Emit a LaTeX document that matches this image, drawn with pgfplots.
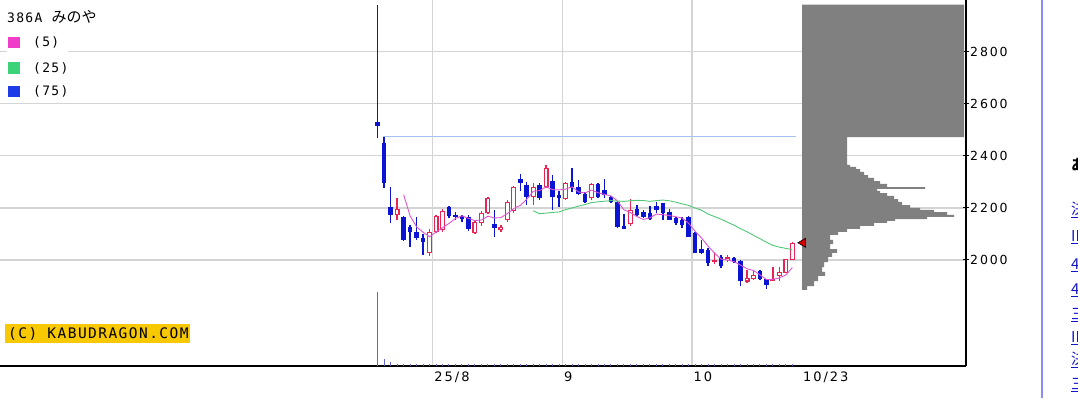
\documentclass[border=0pt]{standalone}
\usepackage{fontspec}
\setmainfont{DejaVu Sans}
\newfontfamily\tickfont[LetterSpace=15]{DejaVu Sans}
\newfontfamily\legfont[LetterSpace=10]{DejaVu Sans Mono}
\newfontfamily\jpfont{Noto Sans CJK JP}
\usepackage{pgfplots}
\pgfplotsset{compat=1.18}
\usepackage{pgfplotstable}

\definecolor{bear}{RGB}{10,20,210}
\definecolor{bull}{RGB}{232,36,84}
\definecolor{ma5}{RGB}{225,85,210}
\definecolor{ma25}{RGB}{80,200,120}
\definecolor{gridc}{RGB}{212,212,212}
\definecolor{ipo}{RGB}{165,195,240}
\definecolor{prof}{RGB}{128,128,128}
\definecolor{vol}{RGB}{100,100,205}
\definecolor{sqa}{RGB}{240,60,200}
\definecolor{sqb}{RGB}{60,210,120}
\definecolor{sqc}{RGB}{30,60,230}
\definecolor{copyc}{RGB}{248,200,0}
\definecolor{sepc}{RGB}{140,140,240}
\definecolor{tri}{RGB}{215,0,0}
\definecolor{linkc}{RGB}{20,20,200}

% bearish candles (close < open)
\pgfplotstableread{
i O H L C
0 2530 2980 2470 2515
1 2448 2471 2276 2295
2 2203 2280 2142 2172
4 2165 2170 2073 2077
5 2126 2134 2050 2107
6 2107 2165 2077 2084
7 2084 2100 2019 2069
11 2203 2207 2161 2169
12 2172 2184 2153 2165
13 2165 2172 2146 2157
14 2165 2172 2111 2119
18 2138 2192 2088 2123
22 2310 2329 2264 2295
23 2287 2300 2211 2241
25 2287 2295 2230 2236
27 2303 2326 2192 2241
28 2249 2264 2205 2236
30 2300 2352 2261 2280
31 2279 2306 2249 2253
32 2253 2262 2219 2223
34 2291 2296 2238 2243
35 2268 2309 2236 2249
36 2240 2245 2220 2223
37 2223 2226 2123 2128
38 2130 2176 2118 2119
40 2195 2211 2169 2172
41 2185 2192 2161 2166
42 2179 2207 2153 2159
43 2207 2223 2179 2192
44 2217 2219 2155 2181
45 2185 2195 2153 2155
46 2160 2165 2134 2143
47 2153 2165 2121 2134
48 2166 2170 2088 2090
49 2102 2109 2026 2028
50 2041 2077 2023 2025
51 2038 2045 1977 1987
53 2010 2019 1968 1977
55 2006 2011 1989 1994
56 1997 2000 1900 1921
59 1959 1962 1923 1926
60 1926 1928 1888 1904
}\beartab

% bullish candles (close > open)
\pgfplotstableread{
i O H L C
3 2172 2238 2153 2195
8 2027 2119 2015 2107
9 2107 2172 2103 2169
10 2115 2195 2107 2188
15 2103 2150 2100 2146
16 2142 2188 2130 2180
17 2180 2242 2176 2238
19 2115 2134 2107 2126
20 2153 2230 2145 2222
21 2188 2284 2180 2280
24 2241 2295 2211 2280
26 2280 2364 2278 2352
29 2234 2300 2230 2295
33 2236 2296 2232 2291
39 2138 2234 2130 2192
52 1994 2032 1985 2000
54 2000 2019 1994 2010
57 1917 1962 1911 1930
58 1926 1962 1923 1943
61 1921 1972 1921 1926
62 1939 1972 1921 1955
63 1951 2005 1949 2003
64 2000 2070 1998 2066
}\bulltab

\begin{document}
\begin{tikzpicture}[x=1pt,y=1pt]
\useasboundingbox (0,0) rectangle (1078,398);

% ---------------- price axis ----------------
\begin{axis}[
  at={(0pt,32pt)}, anchor=south west, scale only axis,
  width=966pt, height=366pt,
  xmin=-58.3, xmax=90.8, ymin=1593, ymax=2998,
  axis x line*=bottom, axis y line*=right,
  axis line style={line width=1.4pt, black},
  xtick={8.5,28.5,48.5}, xticklabels={25/8,9,10},
  extra x ticks={65.4}, extra x tick labels={10/23},
  extra x tick style={grid=none},
  ytick={2000,2200,2400,2600,2800},
  yticklabels={2000,2200,2400,2600,2800},
  grid=major, major grid style={gridc, line width=1.3pt},
  tick align=center, major tick length=6pt,
  tick style={black, line width=1pt},
  major x tick style={draw=none},
  xticklabel style={font=\tickfont\fontsize{13}{15}\selectfont, anchor=base west, inner sep=0pt, xshift=1.5pt, yshift=-13pt},
  yticklabel style={font=\tickfont\fontsize{12.5}{14}\selectfont, anchor=west, inner sep=0pt, xshift=1pt},
]
% IPO price line
\addplot[ipo, line width=1.1pt] coordinates {(0.8,2475) (64.6,2475)};

% bearish wicks and bodies
\addplot[draw=none, mark=none, error bars/.cd, y dir=plus, y explicit, error mark=none,
  error bar style={draw=bear, line width=1.5pt}]
  table[x=i, y=L, y error expr=\thisrow{H}-\thisrow{L}] {\beartab};
\addplot[draw=none, mark=none, error bars/.cd, y dir=plus, y explicit, error mark=none,
  error bar style={draw=bear, line width=4.5pt}]
  table[x=i, y=C, y error expr=\thisrow{O}-\thisrow{C}] {\beartab};

% bullish wicks and hollow bodies
\addplot[draw=none, mark=none, error bars/.cd, y dir=plus, y explicit, error mark=none,
  error bar style={draw=bull, line width=1.4pt}]
  table[x=i, y=L, y error expr=\thisrow{H}-\thisrow{L}] {\bulltab};
\addplot[draw=none, mark=none, error bars/.cd, y dir=plus, y explicit, error mark=none,
  error bar style={draw=bull, line width=5pt}]
  table[x=i, y=O, y error expr=\thisrow{C}-\thisrow{O}] {\bulltab};
\addplot[draw=none, mark=none, error bars/.cd, y dir=plus, y explicit, error mark=none,
  error bar style={draw=white, line width=2.6pt}]
  table[x=i, y expr=\thisrow{O}+4.6, y error expr={max(0,\thisrow{C}-\thisrow{O}-9.2)}] {\bulltab};

% 5-day moving average
\addplot[ma5, line width=0.9pt] coordinates {
(4,2250.8) (5,2169.2) (6,2127.0) (7,2106.4) (8,2088.8) (9,2107.2) (10,2123.4)
(11,2140.4) (12,2159.6) (13,2169.6) (14,2159.6) (15,2151.2) (16,2153.4) (17,2168.0)
(18,2161.2) (19,2162.6) (20,2177.8) (21,2197.8) (22,2209.2) (23,2232.8) (24,2263.6)
(25,2266.4) (26,2280.8) (27,2270.0) (28,2269.0) (29,2272.0) (30,2280.8) (31,2261.0)
(32,2257.4) (33,2268.4) (34,2258.0) (35,2251.8) (36,2245.8) (37,2226.8) (38,2192.4)
(39,2182.2) (40,2166.8) (41,2155.4) (42,2161.6) (43,2176.2) (44,2174.0) (45,2170.6)
(46,2166.0) (47,2161.0) (48,2140.6) (49,2110.0) (50,2084.0) (51,2052.8) (52,2026.0)
(53,2003.4) (54,1999.8) (55,1993.6) (56,1980.4) (57,1966.4) (58,1959.6) (59,1942.8)
(60,1924.8) (61,1925.8) (62,1930.8) (63,1942.8) (64,1970.8)};

% 25-day moving average
\addplot[ma25, line width=0.9pt] coordinates {
(24,2188.8) (25,2177.6) (26,2179.9) (27,2182.6) (28,2184.3) (29,2193.0) (30,2199.9)
(31,2206.7) (32,2212.8) (33,2220.2) (34,2223.2) (35,2225.6) (36,2227.8) (37,2226.3)
(38,2224.8) (39,2227.7) (40,2228.7) (41,2228.2) (42,2225.0) (43,2227.8) (44,2230.0)
(45,2227.3) (46,2221.8) (47,2215.4) (48,2209.3) (49,2199.2) (50,2190.8) (51,2176.2)
(52,2166.6) (53,2156.2) (54,2144.8) (55,2133.4) (56,2120.1) (57,2108.4) (58,2094.4)
(59,2081.8) (60,2068.0) (61,2056.1) (62,2049.2) (63,2044.5) (64,2039.5)};
\end{axis}

% ---------------- volume axis ----------------
\begin{axis}[
  at={(0pt,32pt)}, anchor=south west, scale only axis,
  width=966pt, height=366pt, hide axis,
  xmin=-58.3, xmax=90.8, ymin=0, ymax=100,
]
\addplot[ycomb, vol, line width=1pt, mark=none] coordinates {
(0,20.3) (1,1.83) (2,1.0) (3,0.42) (4,0.42) (5,0.42) (6,0.42) (7,0.42) (8,0.42) (9,0.42)
(10,0.42) (11,0.42) (12,0.42) (13,0.42) (14,0.42) (15,0.42) (16,0.42) (17,0.42) (18,0.42)
(19,0.42) (20,0.42) (21,0.42) (22,0.42) (23,0.42) (24,0.42) (25,0.42) (26,0.42) (27,0.42)
(28,0.42) (29,0.42) (30,0.42) (31,0.42) (32,0.42) (33,0.42) (34,0.42) (35,0.42) (36,0.42)
(37,0.42) (38,0.42) (39,0.42) (40,0.42) (41,0.42) (42,0.42) (43,0.42) (44,0.42) (45,0.42)
(46,0.42) (47,0.42) (48,0.42) (49,0.42) (50,0.42) (51,0.42) (52,0.42) (53,0.42) (54,0.42)
(55,0.42) (56,0.42) (57,0.42) (58,0.42) (59,0.42) (60,0.42) (61,0.42) (62,0.42) (63,0.42)
(64,0.42)};
\end{axis}

% ---------------- volume-by-price profile ----------------
\begin{axis}[
  at={(0pt,32pt)}, anchor=south west, scale only axis,
  width=966pt, height=366pt, hide axis,
  xmin=-802, xmax=164, ymin=1593, ymax=2998,
]
\addplot[xbar interval, fill=prof, draw=none] coordinates {
(5,1885) (12,1900) (16,1919) (23,1939) (20,1954) (22,1973) (26,1992) (30,2012)
(35,2027) (28,2042) (31,2061) (28,2077) (36,2096) (45,2108) (58,2119) (72,2131)
(85,2142) (93,2150) (125,2157) (152,2165) (145,2173) (132,2184) (118,2192) (108,2200)
(100,2211) (96,2223) (92,2234) (85,2246) (78,2257) (75,2265) (123,2273) (85,2280)
(78,2292) (72,2303) (66,2315) (62,2326) (58,2338) (54,2349) (48,2357) (45,2365)
(162,2472) (162,2980)};
\addplot[only marks, mark=triangle*, mark size=5.2pt,
  mark options={rotate=90, fill=tri, draw=black, line width=0.6pt}] coordinates {(1,2066)};
\end{axis}

% ---------------- legend / labels ----------------
\node[anchor=west, inner sep=0pt] at (7,381) {\legfont\fontsize{13}{15}\selectfont 386A \jpfont\fontsize{15}{17}\selectfont みのや};
\fill[white] (7,342) rectangle (68,368);
\fill[sqa] (8,349.5) rectangle (19.5,361);
\node[anchor=west, inner sep=0pt] at (33,355.3) {\legfont\fontsize{13}{15}\selectfont (5)};
\fill[sqb] (8,324) rectangle (19.5,335.5);
\node[anchor=west, inner sep=0pt] at (33,329.7) {\legfont\fontsize{13}{15}\selectfont (25)};
\fill[sqc] (8,300.5) rectangle (19.5,312);
\node[anchor=west, inner sep=0pt] at (33,306.3) {\legfont\fontsize{13}{15}\selectfont (75)};

\fill[copyc] (5,55) rectangle (190,74);
\node[anchor=west, inner sep=0pt] at (8,64.5) {\legfont\fontsize{14.5}{16}\selectfont (C) KABUDRAGON.COM};

% page content to the right of the chart
\draw[sepc, line width=1.3pt] (1042,0) -- (1042,398);
\node[anchor=west, inner sep=0pt] at (1071,233) {\jpfont\bfseries\fontsize{15}{17}\selectfont あ};
\foreach \yy/\tt in {188/決, 161/IR, 133/4, 108/4, 83/三, 60/IR, 38/決, 13/三}{
  \node[anchor=west, inner sep=0pt, text=linkc] at (1071,\yy) {\jpfont\fontsize{15}{17}\selectfont\underline{\tt}};
}
\end{tikzpicture}
\end{document}
